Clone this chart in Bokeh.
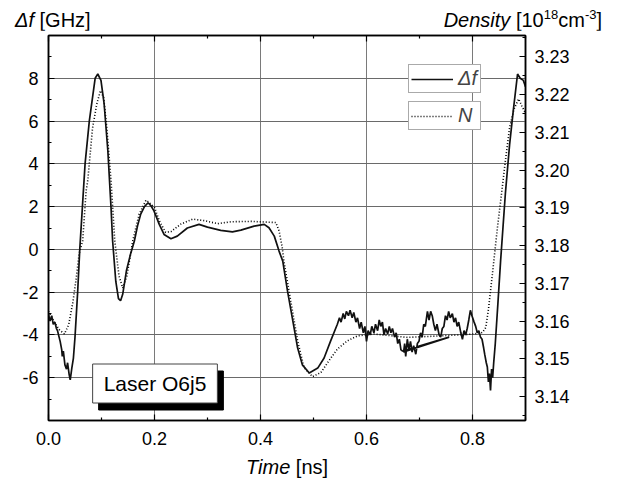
from bokeh.plotting import figure
from bokeh.layouts import column
from bokeh.models import (Range1d, LinearAxis, FixedTicker, PrintfTickFormatter,
                          Label, Legend, LegendItem, Div)
from bokeh.core.properties import value
from bokeh.embed import file_html
from bokeh.resources import INLINE

# ---------------- data ----------------
time_df = [0.000, 0.003, 0.006, 0.009, 0.012, 0.015, 0.017, 0.020, 0.022, 0.025,
           0.026, 0.028, 0.031, 0.034, 0.036, 0.039, 0.041, 0.044, 0.047, 0.050,
           0.055, 0.059, 0.064, 0.069, 0.077, 0.088, 0.093, 0.099, 0.105, 0.112,
           0.118, 0.121, 0.127, 0.132, 0.136, 0.140, 0.147, 0.155, 0.162, 0.168,
           0.174, 0.181, 0.188, 0.193, 0.199, 0.209, 0.218, 0.231, 0.243, 0.262,
           0.284, 0.300, 0.325, 0.347, 0.363, 0.388, 0.407, 0.416, 0.426, 0.435,
           0.442, 0.451, 0.460, 0.470, 0.479, 0.492, 0.508, 0.520, 0.532, 0.545,
           0.549, 0.552, 0.556, 0.559, 0.562, 0.566, 0.569, 0.573, 0.576, 0.580,
           0.583, 0.587, 0.590, 0.594, 0.597, 0.600, 0.603, 0.607, 0.610, 0.614,
           0.617, 0.621, 0.624, 0.627, 0.630, 0.633, 0.636, 0.640, 0.643, 0.646,
           0.649, 0.653, 0.656, 0.659, 0.662, 0.665, 0.668, 0.756, 0.670, 0.672,
           0.674, 0.677, 0.680, 0.683, 0.686, 0.689, 0.693, 0.696, 0.699, 0.702,
           0.705, 0.708, 0.711, 0.715, 0.718, 0.721, 0.724, 0.727, 0.730, 0.733,
           0.737, 0.740, 0.743, 0.746, 0.749, 0.752, 0.755, 0.758, 0.762, 0.765,
           0.768, 0.771, 0.774, 0.778, 0.781, 0.784, 0.787, 0.790, 0.793, 0.796,
           0.799, 0.803, 0.806, 0.809, 0.812, 0.815, 0.818, 0.821, 0.823, 0.826,
           0.828, 0.830, 0.832, 0.834, 0.836, 0.838, 0.840, 0.843, 0.848, 0.853,
           0.862, 0.870, 0.877, 0.885, 0.890, 0.896, 0.900]
delta_f = [-3.05, -3.35, -3.10, -3.50, -3.40, -3.70, -3.80, -4.10, -4.30, -4.70,
           -5.00, -4.75, -5.40, -5.60, -5.30, -5.85, -6.10, -5.55, -5.08, -4.10,
           -2.00, 0.00, 2.00, 4.00, 6.00, 8.00, 8.20, 7.90, 6.80, 4.60,
           1.95, 0.39, -1.50, -2.30, -2.40, -2.10, -1.00, -0.20, 0.39, 1.10,
           1.65, 2.00, 2.18, 2.05, 1.80, 1.17, 0.70, 0.50, 0.62, 1.00,
           1.17, 1.04, 0.89, 0.82, 0.90, 1.09, 1.17, 1.01, 0.62, -0.08,
           -0.55, -1.95, -3.20, -4.60, -5.40, -5.78, -5.55, -5.08, -4.30, -3.50,
           -3.20, -3.40, -3.00, -3.25, -2.90, -3.10, -2.85, -3.20, -2.95, -3.40,
           -3.20, -3.70, -3.40, -3.90, -3.60, -4.30, -3.80, -4.00, -3.60, -3.90,
           -3.50, -3.80, -3.30, -3.60, -3.40, -4.00, -3.70, -3.95, -3.60, -3.90,
           -3.70, -4.10, -3.90, -4.40, -4.20, -4.70, -4.75, -4.10, -4.80, -4.40,
           -5.00, -4.20, -4.70, -4.30, -4.80, -4.50, -4.90, -4.40, -4.30, -3.90,
           -4.10, -3.50, -3.60, -2.90, -3.30, -2.90, -3.10, -3.50, -3.80, -3.50,
           -4.00, -4.10, -3.70, -3.60, -3.10, -3.30, -2.90, -3.20, -3.00, -3.40,
           -3.20, -3.60, -3.40, -3.90, -4.20, -3.80, -4.00, -3.70, -3.30, -2.85,
           -3.10, -3.40, -3.60, -3.90, -3.80, -4.10, -4.20, -4.60, -4.90, -5.30,
           -5.50, -6.20, -5.80, -6.60, -5.60, -6.00, -5.30, -4.40, -2.50, -0.55,
           2.60, 4.90, 6.50, 8.20, 8.00, 7.90, 7.60]

time_n = [0.000, 0.010, 0.020, 0.030, 0.038, 0.046, 0.052, 0.058, 0.0645, 0.071,
          0.074, 0.083, 0.091, 0.098, 0.104, 0.110, 0.118, 0.125, 0.133, 0.140,
          0.148, 0.159, 0.171, 0.184, 0.187, 0.200, 0.209, 0.221, 0.231, 0.250,
          0.272, 0.294, 0.319, 0.344, 0.382, 0.429, 0.435, 0.441, 0.444, 0.457,
          0.470, 0.482, 0.498, 0.514, 0.529, 0.545, 0.564, 0.583, 0.614, 0.677,
          0.740, 0.803, 0.819, 0.825, 0.830, 0.838, 0.847, 0.855, 0.862, 0.870,
          0.878, 0.887, 0.893, 0.900]
density_n = [3.1626, 3.1600, 3.1578, 3.1566, 3.1590, 3.1650, 3.1710, 3.1780, 3.1813, 3.1945,
             3.1971, 3.2110, 3.2174, 3.2210, 3.2192, 3.2112, 3.1971, 3.1813, 3.1720, 3.1688,
             3.1720, 3.1813, 3.1883, 3.1920, 3.1917, 3.1901, 3.1866, 3.1835, 3.1837, 3.1857,
             3.1870, 3.1866, 3.1858, 3.1863, 3.1864, 3.1861, 3.1839, 3.1795, 3.1760, 3.1654,
             3.1548, 3.1478, 3.1453, 3.1464, 3.1495, 3.1526, 3.1548, 3.1561, 3.1566, 3.1557,
             3.1561, 3.1566, 3.1570, 3.1583, 3.1630, 3.1730, 3.1847, 3.1940, 3.2024, 3.2112,
             3.2160, 3.2188, 3.2170, 3.2150]

x_ticks = [0.0, 0.2, 0.4, 0.6, 0.8]
x_minor = [0.1, 0.3, 0.5, 0.7, 0.9]
df_ticks = [-6, -4, -2, 0, 2, 4, 6, 8]
df_minor = [-7, -5, -3, -1, 1, 3, 5, 7, 9]
n_ticks = [3.14, 3.15, 3.16, 3.17, 3.18, 3.19, 3.20, 3.21, 3.22, 3.23]
n_minor = [3.135, 3.145, 3.155, 3.165, 3.175, 3.185, 3.195, 3.205, 3.215, 3.225, 3.235]

FONT = "Liberation Sans"
TICK_SIZE = "18px"
TITLE_SIZE = "20px"

p = figure(width=604, height=422, output_backend="svg", toolbar_location=None,
           x_range=Range1d(0, 0.9), y_range=Range1d(-8, 10),
           min_border_left=48, min_border_right=79, min_border_top=5,
           min_border_bottom=32, margin=(0, 0, 0, 0))
p.extra_y_ranges = {"density": Range1d(3.1337, 3.2356)}

p.outline_line_color = "black"
p.outline_line_width = 1.5
p.background_fill_color = "white"
p.border_fill_color = "white"

x_ticker = FixedTicker(ticks=x_ticks, minor_ticks=x_minor)
y_ticker = FixedTicker(ticks=df_ticks, minor_ticks=df_minor)
n_ticker = FixedTicker(ticks=n_ticks, minor_ticks=n_minor)

def style_axis(ax, standoff):
    ax.axis_line_color = "black"
    ax.axis_line_width = 1.5
    ax.major_tick_in = 6
    ax.major_tick_out = 0
    ax.minor_tick_in = 3
    ax.minor_tick_out = 0
    ax.major_tick_line_color = "black"
    ax.minor_tick_line_color = "black"
    ax.major_tick_line_width = 1.2
    ax.minor_tick_line_width = 1.2
    ax.major_label_text_font = FONT
    ax.major_label_text_font_size = TICK_SIZE
    ax.major_label_text_color = "black"
    ax.major_label_standoff = standoff

p.xaxis.ticker = x_ticker
p.xaxis.formatter = PrintfTickFormatter(format="%.1f")
p.yaxis.ticker = y_ticker
p.yaxis.formatter = PrintfTickFormatter(format="%d")
for ax in p.xaxis:
    style_axis(ax, 11)
for ax in p.yaxis:
    style_axis(ax, 10)

top_axis = LinearAxis(ticker=x_ticker)
style_axis(top_axis, 0)
top_axis.major_label_text_color = None
top_axis.major_label_text_font_size = "0px"
p.add_layout(top_axis, "above")

right_axis = LinearAxis(y_range_name="density", ticker=n_ticker,
                        formatter=PrintfTickFormatter(format="%.2f"))
style_axis(right_axis, 9)
p.add_layout(right_axis, "right")

p.xgrid.grid_line_color = "#7a7a7a"
p.ygrid.grid_line_color = "#6a6a6a"
p.xgrid.grid_line_width = 1
p.ygrid.grid_line_width = 1

r_n = p.line(time_n, density_n, y_range_name="density", line_color="black",
             line_width=1.6, line_dash="1 2")
r_df = p.line(time_df, delta_f, line_color="#111111", line_width=1.7)

def make_legend(label, renderer, loc):
    lg = Legend(items=[LegendItem(label=value(label), renderers=[renderer])],
                location=loc, orientation="vertical")
    lg.label_text_font = FONT
    lg.label_text_font_size = TITLE_SIZE
    lg.label_text_font_style = "italic"
    lg.glyph_width = 42
    lg.glyph_height = 18
    lg.label_height = 18
    lg.label_standoff = 5
    lg.padding = 2
    lg.margin = 0
    lg.spacing = 0
    lg.border_line_color = "#555555"
    lg.border_line_width = 1
    lg.background_fill_color = "white"
    lg.background_fill_alpha = 1.0
    return lg

p.add_layout(make_legend("Δf", r_df, (360, 327)), "center")
p.add_layout(make_legend("N", r_n, (360, 290)), "center")

# "Laser O6j5" box with shadow (frame-relative pixels)
pad = dict(left=11, right=11, top=8, bottom=8)
p.add_layout(Label(x=112.5, y=30, x_units="screen", y_units="screen",
                   text="Laser O6j5", text_font=FONT, text_font_size="21px",
                   text_color="black", text_align="center", text_baseline="middle",
                   background_fill_color="black", border_line_color="black",
                   padding=pad))
p.add_layout(Label(x=106.5, y=37, x_units="screen", y_units="screen",
                   text="Laser O6j5", text_font=FONT, text_font_size="21px",
                   text_color="black", text_align="center", text_baseline="middle",
                   background_fill_color="white", border_line_color="#444444",
                   border_line_width=1, padding=pad))

# axis titles as HTML text above and below the figure
base = ("font-family:'Liberation Sans',Arial,sans-serif;font-size:20px;color:black;")
span = "position:absolute;top:%dpx;line-height:20px;white-space:nowrap;"
sup = '<sup style="font-size:13px;line-height:0;">%s</sup>'
header = Div(
    text=('<div style="position:relative;width:604px;height:30px;%s">' % base
          + '<span style="%sleft:15px;"><i>Δf</i> [GHz]</span>' % (span % 10)
          + '<span style="%sright:2px;"><i>Density</i> [10%scm%s]</span>'
          % (span % 10, sup % "18", sup % "-3")
          + '</div>'),
    width=604, height=30, margin=(0, 0, 0, 0))
footer = Div(
    text=('<div style="position:relative;width:604px;height:30px;%s">' % base
          + '<span style="%sleft:246px;"><i>Time</i> [ns]</span>' % (span % 5)
          + '</div>'),
    width=604, height=30, margin=(0, 0, 0, 0))

layout = column(header, p, footer, spacing=0)

open("out.html", "w").write(file_html(layout, INLINE))
